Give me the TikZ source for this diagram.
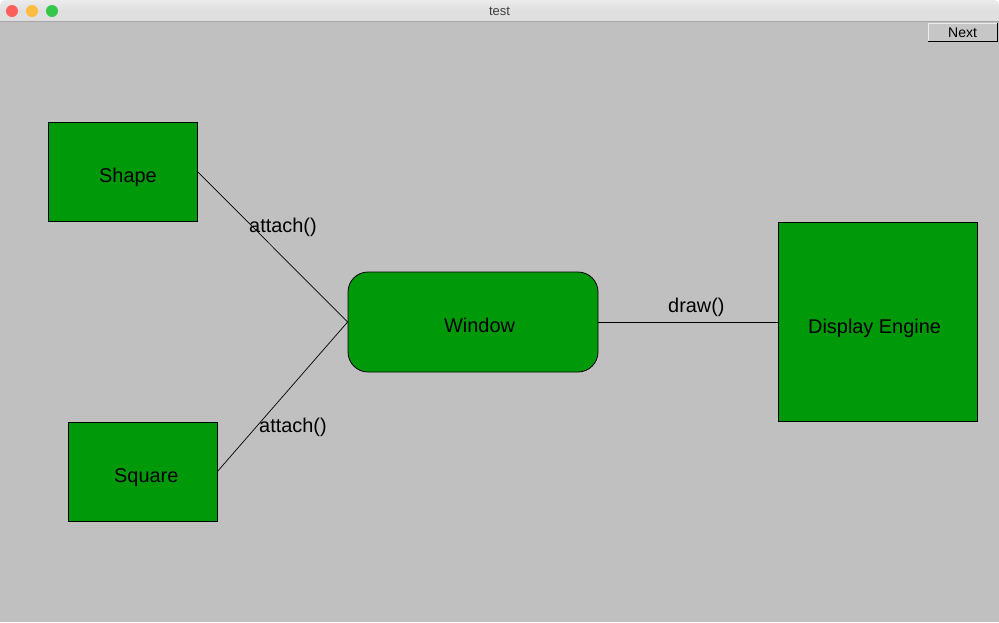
\documentclass[tikz,border=0pt]{standalone}
\usepackage{fontspec}
\setmainfont{Liberation Sans}
\definecolor{boxgreen}{RGB}{0,153,10}
\definecolor{canvas}{RGB}{192,192,192}
\definecolor{bartop}{RGB}{236,235,236}
\definecolor{barbot}{RGB}{212,210,212}
\definecolor{tlred}{RGB}{252,96,92}
\definecolor{tlyellow}{RGB}{253,188,64}
\definecolor{tlgreen}{RGB}{52,200,74}
\begin{document}
\begin{tikzpicture}[x=1pt,y=-1pt,
  box/.style={draw=black,line width=0.8pt,fill=boxgreen,inner sep=0pt},
  txt/.style={inner sep=0pt,anchor=base west,font=\fontsize{19.9}{22}\selectfont},
  conn/.style={draw=black,line width=0.7pt},
  light/.style={circle,inner sep=0pt,minimum size=12pt}]
\useasboundingbox (0,0) rectangle (999,622);
% window background
\fill[white] (0,0) rectangle (999,622);
\fill[canvas] (0,21) rectangle (999,622);
\shade[top color=bartop,bottom color=barbot,rounded corners=5pt] (0,0) -- (0,21) -- (999,21) -- (999,0) -- cycle;
\fill[bartop!50!barbot] (0,10) rectangle (999,21);
\draw[line width=0.8pt,color=black!35] (0,21.5) -- (999,21.5);
\node[light,fill=tlred] (red) at (12,11) {};
\node[light,fill=tlyellow] (yellow) at (32,11) {};
\node[light,fill=tlgreen] (green) at (52,11) {};
\node[inner sep=0pt,font=\fontsize{13}{15}\selectfont,text=black!75] (title) at (499.5,11) {test};
% Next button
\fill[canvas!90!white] (928,23) rectangle (997,41);
\draw[line width=1pt,black] (928,41) -- (997,41) -- (997,23);
\draw[line width=0.6pt,white!85!gray] (928,41) -- (928,23) -- (997,23);
\node[inner sep=0pt,anchor=base west,font=\fontsize{14}{16}\selectfont] (next) at (948,37) {Next};
% boxes
\node[box,minimum width=149pt,minimum height=99pt] (shape) at (122.5,171.5) {};
\node[box,minimum width=149pt,minimum height=99pt] (square) at (142.5,471.5) {};
\node[box,minimum width=250pt,minimum height=100pt,rounded corners=20pt] (window) at (473,322) {};
\node[box,minimum width=199pt,minimum height=199pt] (display) at (877.5,322) {};
% box texts
\node[txt] (shapetxt) at (99,182) {Shape};
\node[txt] (squaretxt) at (114,482) {Square};
\node[txt] (windowtxt) at (444,332.5) {Window};
\node[txt] (displaytxt) at (808,333) {Display Engine};
% connectors
\draw[conn] (shape.east) -- (window.west);
\draw[conn] (square.east) -- (window.west);
\draw[conn] (window.east) -- (display.west);
% labels
\node[txt] (l1) at (249,232) {attach()};
\node[txt] (l2) at (259,432) {attach()};
\node[txt] (l3) at (668,312) {draw()};
\end{tikzpicture}
\end{document}
